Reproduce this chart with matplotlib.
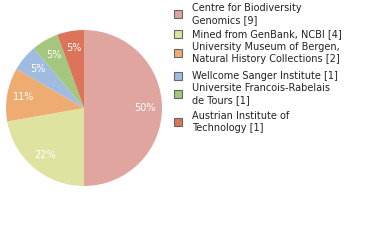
import matplotlib
matplotlib.use("Agg")
import matplotlib.pyplot as plt
from matplotlib.patches import Rectangle

labels = ["Centre for Biodiversity\nGenomics [9]",
          "Mined from GenBank, NCBI [4]",
          "University Museum of Bergen,\nNatural History Collections [2]",
          "Wellcome Sanger Institute [1]",
          "Universite Francois-Rabelais\nde Tours [1]",
          "Austrian Institute of\nTechnology [1]"]
values = [9, 4, 2, 1, 1, 1]
colors = ["#dfa59e", "#dee39f", "#eeac73", "#9fbce0", "#a4c77d", "#dc7459"]

W, H = 380, 240
fig = plt.figure(figsize=(W/100, H/100), dpi=100)
cx, cy, r = 84, 108, 78
ax = fig.add_axes([(cx - r)/W, (H - cy - r)/H, 2*r/W, 2*r/H])
wedges, texts, autotexts = ax.pie(values, colors=colors, startangle=90, counterclock=False,
       autopct=lambda p: "%d%%" % int(p), pctdistance=0.78, radius=1.0,
       wedgeprops=dict(linewidth=0), textprops=dict(color="white", fontsize=7))
ax.set_xlim(-1, 1); ax.set_ylim(-1, 1); ax.set_aspect("auto")
ax.axis("off")

ys = [14, 34, 53, 76, 94, 122]
for lab, col, y in zip(labels, colors, ys):
    fig.patches.append(Rectangle((174/W, (H - y - 4)/H), 8/W, 8/H, transform=fig.transFigure,
                                 facecolor=col, edgecolor="#666666", linewidth=0.8))
    fig.text(192/W, (H - y)/H, lab, fontsize=7, va="center", ha="left", color="#222222",
             linespacing=1.35)

fig.savefig("out.png", dpi=100)
